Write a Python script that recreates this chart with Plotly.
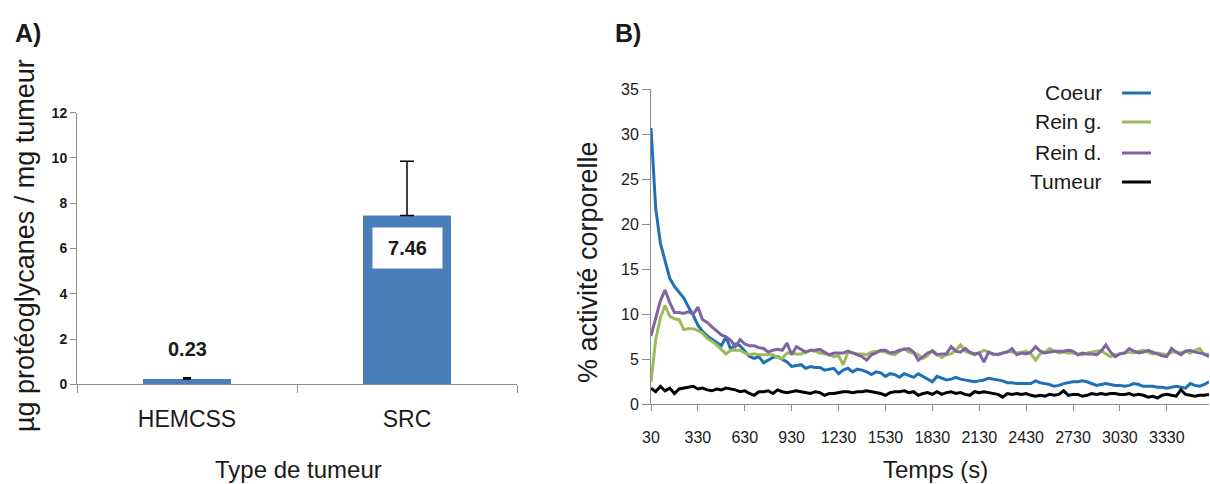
import plotly.graph_objects as go

# ---------------- Panel A data ----------------
categories = ["HEMCSS", "SRC"]
proteoglycanes = [0.23, 7.46]
erreur = [0.06, 2.40]
cap_width = [4, 7]

# ---------------- Panel B data ----------------
temps = list(range(30, 3601, 30))  # 120 points
coeur = [30.7, 21.8, 17.9, 16.0, 14.0, 13.1, 12.5, 11.8, 10.8, 9.9,
         8.8, 8.1, 7.6, 7.2, 6.9, 6.5, 7.5, 6.1, 6.7, 6.5,
         5.9, 5.3, 5.1, 5.3, 4.6, 4.9, 5.2, 5.3, 5.0, 4.7,
         4.2, 4.3, 4.4, 4.0, 4.2, 4.1, 4.1, 3.8, 3.9, 4.0,
         3.4, 3.8, 4.0, 3.6, 3.9, 3.8, 3.6, 3.3, 3.6, 3.5,
         3.1, 3.4, 3.3, 3.0, 3.4, 3.2, 3.0, 3.4, 3.1, 2.8,
         2.5, 3.1, 2.9, 2.7, 2.8, 3.0, 2.8, 2.7, 2.6, 2.5,
         2.6, 2.7, 2.9, 2.8, 2.7, 2.6, 2.4, 2.4, 2.3, 2.3,
         2.3, 2.3, 2.6, 2.4, 2.3, 2.2, 2.0, 2.1, 2.3, 2.4,
         2.5, 2.5, 2.6, 2.5, 2.3, 2.1, 2.2, 2.3, 2.2, 2.1,
         2.1, 2.0, 2.1, 2.3, 2.2, 2.0, 2.0, 2.0, 1.9, 1.9,
         1.8, 1.9, 2.0, 1.9, 1.8, 2.3, 2.1, 2.0, 2.2, 2.5]
rein_g = [2.5, 7.2, 9.6, 11.0, 9.8, 9.5, 9.4, 8.3, 8.4, 8.4,
          8.2, 7.9, 7.3, 7.0, 6.6, 6.1, 5.6, 6.0, 6.0, 6.0,
          5.7, 5.5, 5.6, 5.5, 5.5, 5.5, 5.5, 5.2, 5.1, 5.7,
          5.7, 5.6, 5.6, 5.8, 6.0, 5.9, 5.7, 5.6, 5.5, 5.3,
          5.4, 4.4, 5.8, 5.7, 5.6, 5.6, 5.5, 5.8, 5.9, 5.9,
          5.8, 5.6, 5.5, 5.9, 6.2, 5.8, 5.7, 5.5, 5.1, 5.4,
          6.0, 5.6, 5.2, 5.5, 5.6, 6.0, 6.6, 5.9, 5.7, 5.5,
          5.7, 6.0, 5.8, 5.5, 5.6, 5.7, 5.9, 5.8, 5.7, 5.8,
          5.9, 5.6, 4.9, 5.6, 5.8, 6.2, 5.9, 5.7, 5.8, 5.7,
          5.7, 5.6, 5.5, 5.7, 5.8, 5.9, 6.0, 5.6, 5.3, 5.5,
          5.6, 5.7, 5.8, 5.7, 5.9, 6.0, 5.8, 5.6, 5.7, 5.6,
          5.5, 5.8, 5.8, 5.7, 5.9, 5.7, 6.0, 6.2, 5.5, 5.6]
rein_d = [7.6, 9.6, 11.5, 12.7, 11.3, 10.2, 10.2, 10.1, 10.3, 10.0,
          10.8, 9.4, 9.1, 8.6, 8.1, 7.7, 7.5, 7.1, 6.4, 7.2,
          6.7, 6.5, 6.5, 6.3, 6.2, 5.8, 6.0, 6.1, 6.0, 6.8,
          5.5, 6.4, 6.1, 5.8, 6.0, 6.0, 6.1, 5.8, 5.5, 5.7,
          5.7, 5.7, 5.9, 5.7, 5.5, 5.3, 4.9, 5.5, 5.7, 6.0,
          6.0, 5.7, 5.8, 6.0, 6.1, 6.2, 5.8, 4.9, 5.3, 5.7,
          5.9, 5.5, 5.6, 5.6, 6.4, 5.9, 5.8, 6.2, 5.8, 5.6,
          5.7, 4.7, 5.8, 5.6, 5.5, 5.7, 5.8, 6.2, 5.5, 5.7,
          5.6, 5.8, 6.4, 5.9, 5.7, 5.8, 5.9, 5.9, 5.9, 6.0,
          5.9, 5.5, 5.7, 5.6, 5.6, 5.5, 5.9, 6.6, 5.8, 5.3,
          5.6, 5.7, 6.2, 5.9, 5.7, 5.8, 6.0, 5.8, 5.6, 5.4,
          5.3, 6.2, 5.8, 5.5, 5.9, 6.0, 5.8, 5.7, 5.6, 5.3]
tumeur = [1.8, 1.4, 2.0, 1.5, 1.8, 1.2, 1.7, 1.8, 1.9, 2.0,
          1.7, 1.8, 1.6, 1.5, 1.7, 1.6, 1.8, 1.7, 1.6, 1.4,
          1.5, 1.2, 1.0, 1.4, 1.4, 1.5, 1.2, 1.6, 1.4, 1.3,
          1.4, 1.5, 1.4, 1.3, 1.2, 1.4, 1.3, 1.0, 1.2, 1.2,
          1.3, 1.4, 1.4, 1.3, 1.4, 1.4, 1.5, 1.4, 1.3, 1.2,
          1.0, 1.3, 1.4, 1.4, 1.5, 1.3, 1.4, 1.0, 1.2, 1.3,
          1.1, 1.4, 1.1, 1.3, 1.4, 1.2, 1.3, 1.1, 1.0, 1.4,
          1.3, 1.4, 1.3, 1.2, 1.1, 0.8, 1.2, 1.1, 1.2, 1.1,
          1.2, 1.0, 0.9, 1.0, 0.9, 1.1, 1.0, 1.1, 1.5, 1.0,
          1.1, 1.1, 0.9, 1.0, 1.2, 1.1, 1.2, 1.1, 1.2, 1.2,
          1.1, 1.1, 1.2, 1.0, 1.1, 1.0, 0.8, 0.9, 0.7, 1.0,
          1.1, 1.0, 0.9, 1.6, 1.1, 1.0, 0.9, 1.0, 1.0, 1.1]

series_names = ["Coeur", "Rein g.", "Rein d.", "Tumeur"]
series_values = [coeur, rein_g, rein_d, tumeur]
series_colors = ["#2070b4", "#9bbb59", "#8064a2", "#000000"]

x_tick_vals = temps[::10][:12]
x_tick_text = [str(v) for v in x_tick_vals]

FONT = "Liberation Sans, Arial, sans-serif"
TXT = "#1a1a1a"
AX = "#8c8c8c"

# The page's body margin is removed (post_script below) so the figure fills
# the 1210x484 window; positions below are given in window pixels.
W, H = 1210, 484

def px_x(p):
    return p / W

def px_y(p):
    return 1 - p / H

fig = go.Figure()

# Panel A bars
for cat, val, err, cw in zip(categories, proteoglycanes, erreur, cap_width):
    fig.add_trace(go.Bar(
        x=[cat], y=[val], width=0.4,
        marker=dict(color="#4a7ebb", line=dict(width=0)),
        error_y=dict(type="data", symmetric=False, array=[err], arrayminus=[0],
                     color="#000000", thickness=1.5, width=cw),
        xaxis="x", yaxis="y", showlegend=False, hoverinfo="skip"))

# Panel B lines
for name, vals, col in zip(series_names, series_values, series_colors):
    fig.add_trace(go.Scatter(
        x=temps, y=vals, mode="lines", name=name,
        line=dict(color=col, width=3),
        xaxis="x2", yaxis="y2", showlegend=False))

annotations = []
# value labels panel A
annotations.append(dict(x=categories[0], y=proteoglycanes[0] + erreur[0], xref="x", yref="y",
                        text="<b>%.2f</b>" % proteoglycanes[0], showarrow=False,
                        xanchor="center", yanchor="bottom", yshift=16,
                        font=dict(family=FONT, size=20, color=TXT)))
annotations.append(dict(x=categories[1], y=proteoglycanes[1], xref="x", yref="y",
                        text="<b>%.2f</b>" % proteoglycanes[1], showarrow=False,
                        xanchor="center", yanchor="top", yshift=-12, width=69, height=40,
                        bgcolor="#ffffff", borderpad=0,
                        font=dict(family=FONT, size=20, color=TXT)))

def paper_text(x, y, text, size, angle=0, xanchor="center"):
    return dict(x=px_x(x), y=px_y(y), xref="paper", yref="paper", text=text,
                textangle=angle, showarrow=False, xanchor=xanchor, yanchor="middle",
                font=dict(family=FONT, size=size, color=TXT))

# panel letters
annotations.append(paper_text(28, 33, "<b>A)</b>", 25))
annotations.append(paper_text(628, 33, "<b>B)</b>", 25))

# axis titles
annotations.append(paper_text(25, 246, "µg protéoglycanes / mg tumeur", 27, -90))
annotations.append(paper_text(298, 469, "Type de tumeur", 24))
annotations.append(paper_text(588, 262, "% activité corporelle", 27, -90))
annotations.append(paper_text(935, 469, "Temps (s)", 24))

# custom legend (text left, line right)
legend_rows = [92, 121, 152, 181]
shapes = []
for name, col, ry in zip(series_names, series_colors, legend_rows):
    annotations.append(paper_text(1104, ry, name, 21, xanchor="right"))
    shapes.append(dict(type="line", xref="paper", yref="paper",
                       x0=px_x(1122), x1=px_x(1151), y0=px_y(ry + 1), y1=px_y(ry + 1),
                       line=dict(color=col, width=3)))

common_axis = dict(showline=True, linecolor=AX, linewidth=1, ticks="outside",
                   tickcolor=AX, showgrid=False, zeroline=False, automargin=False)

fig.update_layout(
    template="none",
    width=W, height=H,
    margin=dict(l=0, r=0, t=0, b=0, pad=0, autoexpand=False),
    paper_bgcolor="#ffffff", plot_bgcolor="#ffffff",
    barmode="overlay",
    showlegend=False,
    hovermode=False,
    annotations=annotations,
    shapes=shapes,
    xaxis=dict(domain=[px_x(77), px_x(517)], anchor="y", type="category",
               categoryorder="array", categoryarray=categories,
               range=[-0.5, 1.5], tickson="boundaries", ticklen=8,
               ticklabelstandoff=14,
               tickfont=dict(family=FONT, size=23, color=TXT), **common_axis),
    yaxis=dict(domain=[px_y(384.3), px_y(112.7)], anchor="x",
               range=[0, 12], dtick=2, ticklen=6,
               tickfont=dict(family=FONT, size=14, color=TXT, weight="bold"), **common_axis),
    xaxis2=dict(domain=[px_x(651), px_x(1209)], anchor="y2",
                range=[temps[0], temps[-1]], tickvals=x_tick_vals, ticktext=x_tick_text,
                ticklen=6, ticklabelstandoff=12,
                tickfont=dict(family=FONT, size=16, color=TXT), **common_axis),
    yaxis2=dict(domain=[px_y(404.3), px_y(89.3)], anchor="x2",
                range=[0, 35], dtick=5, ticklen=8,
                tickfont=dict(family=FONT, size=16, color=TXT), **common_axis),
)

fig.write_html("out.html", config={"displayModeBar": False},
               post_script="document.body.style.margin='0';document.body.style.overflow='hidden';")
